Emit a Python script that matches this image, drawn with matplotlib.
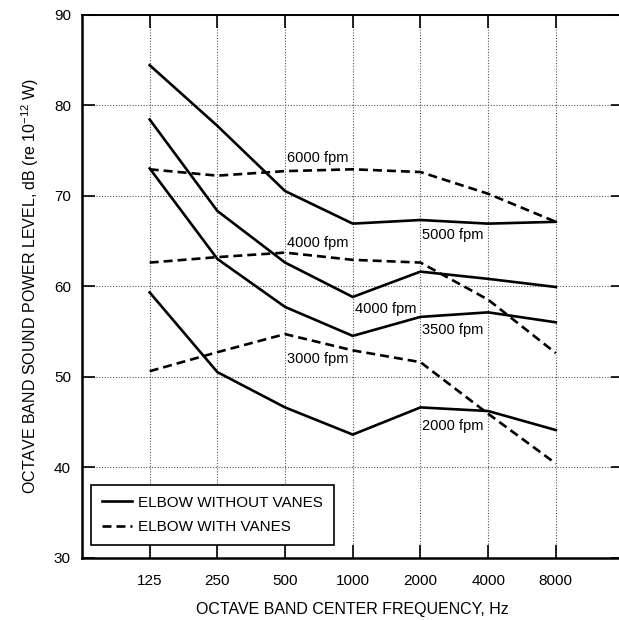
import matplotlib
matplotlib.use("Agg")
import matplotlib.pyplot as plt

plt.rcParams['font.family'] = ['Liberation Sans', 'DejaVu Sans']
plt.rcParams['mathtext.fontset'] = 'custom'
plt.rcParams['mathtext.rm'] = 'Liberation Sans'
plt.rcParams['mathtext.it'] = 'Liberation Sans'

freqs = ["125", "250", "500", "1000", "2000", "4000", "8000"]

# Elbow without vanes (solid)
no_vanes_5000 = [84.4, 77.7, 70.5, 66.9, 67.3, 66.9, 67.1]
no_vanes_4000 = [78.4, 68.3, 62.6, 58.8, 61.6, 60.8, 59.9]
no_vanes_3500 = [73.0, 63.0, 57.7, 54.5, 56.6, 57.1, 56.0]
no_vanes_2000 = [59.3, 50.5, 46.6, 43.6, 46.6, 46.2, 44.1]

# Elbow with vanes (dashed)
vanes_6000 = [72.9, 72.2, 72.7, 72.9, 72.6, 70.2, 67.1]
vanes_4000 = [62.6, 63.2, 63.7, 62.9, 62.6, 58.5, 52.6]
vanes_3000 = [50.6, 52.7, 54.7, 52.9, 51.6, 45.9, 40.4]

labels_text = ["6000 fpm", "4000 fpm", "3000 fpm", "5000 fpm", "4000 fpm", "3500 fpm", "2000 fpm"]
labels_xy = [(2.03, 74.2), (2.03, 64.8), (2.03, 52.0), (4.03, 65.6), (3.03, 57.5), (4.03, 55.1), (4.03, 44.5)]

fig = plt.figure(figsize=(6.19, 6.20), dpi=100)
ax = fig.add_axes([82/619, (620-557.7)/620, (623.5-82)/619, (557.7-14.5)/620])

x = list(range(len(freqs)))
lw = 1.9
solid_kw = dict(color='black', lw=lw, solid_joinstyle='miter')
dash_kw = dict(color='black', lw=lw, dashes=(3.4, 1.9))

ax.plot(x, no_vanes_5000, **solid_kw, label='ELBOW WITHOUT VANES')
ax.plot(x, no_vanes_4000, **solid_kw)
ax.plot(x, no_vanes_3500, **solid_kw)
ax.plot(x, no_vanes_2000, **solid_kw)
ax.plot(x, vanes_6000, **dash_kw, label='ELBOW WITH VANES')
ax.plot(x, vanes_4000, **dash_kw)
ax.plot(x, vanes_3000, **dash_kw)

for t, (tx, ty) in zip(labels_text, labels_xy):
    ax.text(tx, ty, t, fontsize=10.5, ha='left', va='center')

ax.set_xlim(-1, 7)
ax.set_ylim(30, 90)
ax.set_xticks(x)
ax.set_xticklabels(freqs)
ax.set_yticks(range(30, 91, 10))
ax.grid(True, color='#555555', linestyle=(0, (1, 1.5)), linewidth=0.8)
ax.tick_params(direction='in', length=9.5, width=1.2, top=True, right=True,
               labelsize=11, color='black')
ax.tick_params(axis='x', pad=12)
ax.tick_params(axis='y', pad=8)
for s in ['left', 'bottom']:
    ax.spines[s].set_linewidth(1.8)
ax.spines['top'].set_linewidth(1.4)
ax.spines['right'].set_linewidth(1.4)

ax.set_xlabel('OCTAVE BAND CENTER FREQUENCY, Hz', fontsize=11.5, labelpad=10)
ax.set_ylabel(r'OCTAVE BAND SOUND POWER LEVEL, dB (re 10$^{-12}$ W)', fontsize=11.5, labelpad=9)

leg = ax.legend(loc='lower left', bbox_to_anchor=(0.0166, 0.0234), borderaxespad=0,
                fontsize=11, handlelength=2.0, handletextpad=0.4, labelspacing=0.7,
                borderpad=0.7, fancybox=False, framealpha=1, edgecolor='black')
leg.get_frame().set_linewidth(1.2)

fig.savefig('out.png', dpi=100)
